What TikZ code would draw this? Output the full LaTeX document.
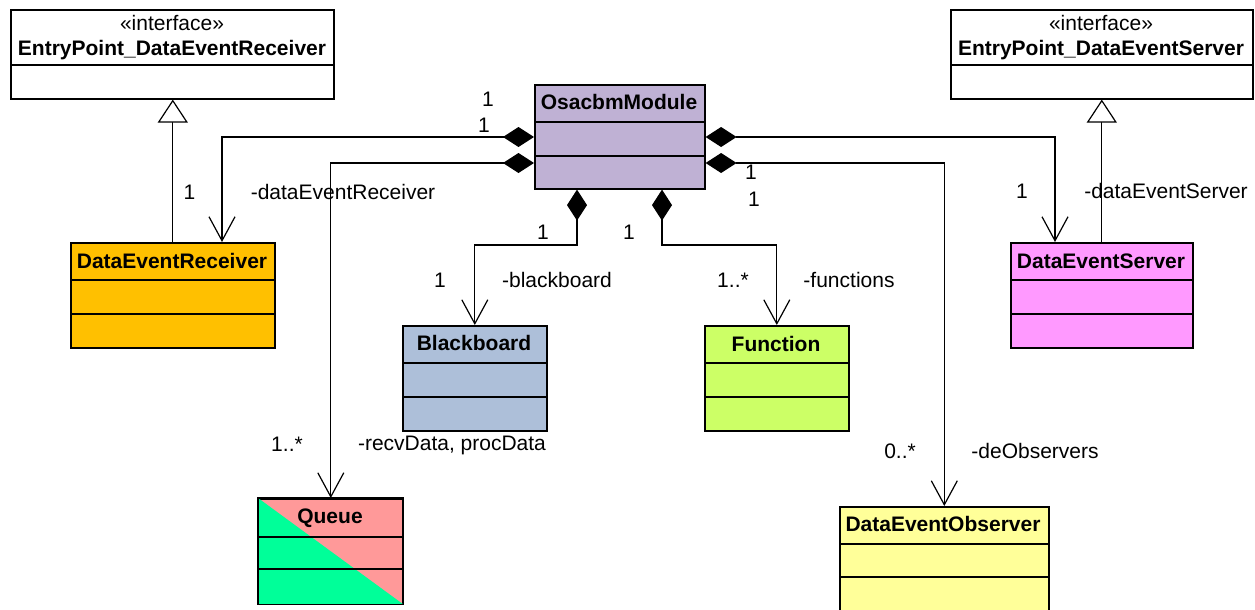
\documentclass[tikz,border=0pt]{standalone}
\usepackage{fontspec}
\setmainfont{Liberation Sans}
\usetikzlibrary{arrows.meta}
\definecolor{osacol}{HTML}{BFB1D4}
\definecolor{dercol}{HTML}{FFC000}
\definecolor{descol}{HTML}{FF99FF}
\definecolor{bbcol}{HTML}{ADBFD9}
\definecolor{fncol}{HTML}{CCFF66}
\definecolor{deocol}{HTML}{FFFF99}
\definecolor{qpink}{HTML}{FF9999}
\definecolor{qgreen}{HTML}{00FF99}
\begin{document}
\begin{tikzpicture}[x=1pt,y=-1pt,font=\fontsize{21}{25}\selectfont,line join=miter]
	\tikzset{cls/.style={draw,line width=1.6pt,inner sep=0pt,anchor=north west},
		sep/.style={line width=1.6pt},
		ttl/.style={font=\fontsize{21}{25}\selectfont\bfseries,anchor=base,inner sep=0pt},
		lbl/.style={anchor=base,inner sep=0pt},
		comp/.style={line width=1.2pt,{Diamond[length=31pt,width=20pt]}-{Straight Barb[length=24pt,width=26pt]}},
		gen/.style={line width=1.2pt,-{Triangle[open,fill=white,length=23pt,width=30pt]}}}
	\useasboundingbox (0,0) rectangle (1255,610);
	% interfaces
	\node[cls,minimum width=323pt,minimum height=89pt] (epr) at (10,9) {};
	\draw[sep] (epr.west |- 0,65) -- (epr.east |- 0,65);
	\node[lbl] (eprs) at (172,31) {«interface»};
	\node[ttl] (eprt) at (172,56) {EntryPoint\_DataEventReceiver};
	\node[cls,minimum width=302pt,minimum height=89pt] (eps) at (950,9) {};
	\draw[sep] (eps.west |- 0,65) -- (eps.east |- 0,65);
	\node[lbl] (epss) at (1101,31) {«interface»};
	\node[ttl] (epst) at (1101,56) {EntryPoint\_DataEventServer};
	% classes
	\node[cls,fill=osacol,minimum width=170pt,minimum height=104pt] (osa) at (534,84) {};
	\draw[sep] (osa.west |- 0,122) -- (osa.east |- 0,122) (osa.west |- 0,156) -- (osa.east |- 0,156);
	\node[ttl] (osat) at (619,109) {OsacbmModule};
	\node[cls,fill=dercol,minimum width=204pt,minimum height=105pt] (der) at (70,242) {};
	\draw[sep] (der.west |- 0,280) -- (der.east |- 0,280) (der.west |- 0,314) -- (der.east |- 0,314);
	\node[ttl] (dert) at (172,268) {DataEventReceiver};
	\node[cls,fill=descol,minimum width=182pt,minimum height=105pt] (des) at (1010,242) {};
	\draw[sep] (des.west |- 0,280) -- (des.east |- 0,280) (des.west |- 0,314) -- (des.east |- 0,314);
	\node[ttl] (dest) at (1101,268) {DataEventServer};
	\node[cls,fill=bbcol,minimum width=144pt,minimum height=105pt] (bb) at (402,325) {};
	\draw[sep] (bb.west |- 0,363) -- (bb.east |- 0,363) (bb.west |- 0,397) -- (bb.east |- 0,397);
	\node[ttl] (bbt) at (474,350) {Blackboard};
	\node[cls,fill=fncol,minimum width=144pt,minimum height=105pt] (fn) at (704,325) {};
	\draw[sep] (fn.west |- 0,363) -- (fn.east |- 0,363) (fn.west |- 0,397) -- (fn.east |- 0,397);
	\node[ttl] (fnt) at (776,351) {Function};
	\node[cls,fill=qpink,minimum width=144pt,minimum height=105pt] (que) at (258,498) {};
	\fill[qgreen] (que.north west) -- (que.south east) -- (que.south west) -- cycle;
	\draw[sep] (que.north west) rectangle (que.south east);
	\draw[sep] (que.west |- 0,537) -- (que.east |- 0,537) (que.west |- 0,569) -- (que.east |- 0,569);
	\node[ttl] (quet) at (330,523) {Queue};
	\node[cls,fill=deocol,minimum width=209pt,minimum height=110pt] (deo) at (839,506) {};
	\draw[sep] (deo.west |- 0,544) -- (deo.east |- 0,544) (deo.west |- 0,577) -- (deo.east |- 0,577);
	\node[ttl] (deot) at (943,531) {DataEventObserver};
	% generalizations
	\draw[gen] (der.north) -- (der.north |- epr.south);
	\draw[gen] (des.north) -- (des.north |- eps.south);
	% compositions
	\draw[comp] (osa.west |- 0,137) -| (der.north -| 222,0);
	\draw[comp] (osa.west |- 0,163) -| (que.north);
	\draw[comp] (osa.south -| 577,0) |- (bb.north |- 0,245) -- (bb.north);
	\draw[comp] (osa.south -| 662,0) |- (fn.north |- 0,245) -- (fn.north);
	\draw[comp] (osa.east |- 0,137) -| (des.north -| 1055,0);
	\draw[comp] (osa.east |- 0,163) -| (deo.north);
	% multiplicities and roles
	\node[lbl] (mderA) at (488,106) {1};
	\node[lbl] (mqueA) at (484,132) {1};
	\node[lbl] (mdesA) at (751,179) {1};
	\node[lbl] (mdeoA) at (754,206) {1};
	\node[lbl] (mbbA) at (543,239) {1};
	\node[lbl] (mfnA) at (629,239) {1};
	\node[lbl] (mder) at (189.5,199) {1};
	\node[lbl] (rder) at (343,199) {-dataEventReceiver};
	\node[lbl] (mdes) at (1022,198) {1};
	\node[lbl] (rdes) at (1166,198) {-dataEventServer};
	\node[lbl] (mbb) at (440,287) {1};
	\node[lbl] (rbb) at (557,287) {-blackboard};
	\node[lbl] (mfn) at (733,287) {1..*};
	\node[lbl] (rfn) at (849,287) {-functions};
	\node[lbl] (mque) at (287,451) {1..*};
	\node[lbl] (rque) at (452,450) {-recvData, procData};
	\node[lbl] (mdeo) at (900,458) {0..*};
	\node[lbl] (rdeo) at (1035,458) {-deObservers};
\end{tikzpicture}
\end{document}
